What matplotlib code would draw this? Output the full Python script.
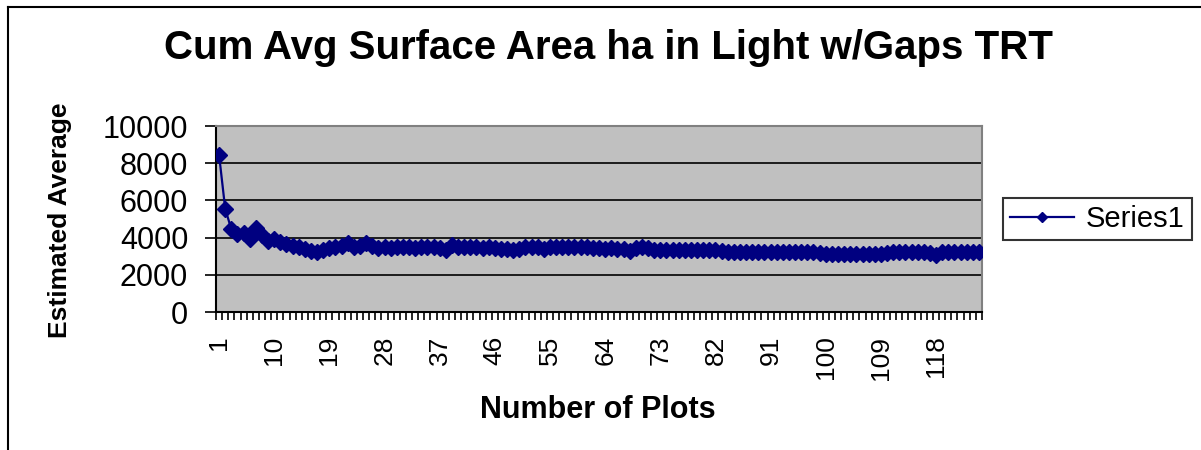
import matplotlib
matplotlib.use('Agg')
import matplotlib.pyplot as plt
from matplotlib.lines import Line2D

plt.rcParams['font.family'] = ['Liberation Sans', 'DejaVu Sans']

# Cumulative average of surface area (ha), one value per plot added
cum_avg = [
    8450, 5550, 4450, 4200, 4250, 3950, 4500, 4150, 3800, 3950,
    3770, 3630, 3570, 3500, 3380, 3290, 3230, 3330, 3450, 3470,
    3540, 3700, 3520, 3550, 3700, 3560, 3440, 3480, 3460, 3480,
    3470, 3480, 3460, 3480, 3470, 3480, 3460, 3350, 3600, 3470,
    3480, 3470, 3480, 3460, 3470, 3460, 3380, 3370, 3360, 3380,
    3480, 3470, 3480, 3380, 3470, 3480, 3470, 3480, 3470, 3480,
    3490, 3450, 3420, 3410, 3420, 3400, 3410, 3300, 3450, 3470,
    3460, 3350, 3330, 3320, 3330, 3320, 3330, 3320, 3330, 3320,
    3330, 3320, 3300, 3230, 3220, 3230, 3220, 3230, 3220, 3230,
    3220, 3230, 3220, 3210, 3220, 3210, 3220, 3210, 3190, 3140,
    3130, 3140, 3130, 3140, 3130, 3140, 3130, 3140, 3130, 3150,
    3220, 3240, 3230, 3240, 3230, 3240, 3180, 3080, 3220, 3230,
    3240, 3230, 3240, 3230, 3240,
]
plots = list(range(1, len(cum_avg) + 1))
tick_plots = plots[::9]
y_ticks = [0, 2000, 4000, 6000, 8000, 10000]

fig = plt.figure(figsize=(12.01, 4.5), dpi=100)
ax = fig.add_axes([216 / 1201, 1 - 312 / 450, (982 - 216) / 1201, (312 - 126) / 450])
ax.set_facecolor('#c0c0c0')

line, = ax.plot(plots, cum_avg, color='#000080', linewidth=1.6,
                marker='D', markersize=8.5, markeredgecolor='#000080',
                markerfacecolor='#000080', label='Series1', zorder=3)

ax.set_xlim(0.5, len(cum_avg) + 0.5)
ax.set_ylim(0, 10000)
ax.set_yticks(y_ticks)
ax.yaxis.grid(True, color='black', linewidth=1.2)
ax.set_axisbelow(True)

# category labels every 9th plot, tick marks between every category
ax.set_xticks(tick_plots)
ax.set_xticklabels([str(p) for p in tick_plots], rotation=90, fontsize=19)
ax.set_xticks([p + 0.5 for p in [0] + plots], minor=True)
ax.tick_params(axis='x', which='major', length=0, pad=17)
ax.tick_params(axis='x', which='minor', length=6, width=1.2, direction='out', color='black')
ax.tick_params(axis='y', length=8, width=1.2, direction='out', labelsize=22, pad=12)

for side in ['left', 'bottom']:
    ax.spines[side].set_color('black')
    ax.spines[side].set_linewidth(1.5)
for side in ['top', 'right']:
    ax.spines[side].set_color('#808080')
    ax.spines[side].set_linewidth(1.5)

fig.text(608 / 1201, 1 - 48 / 450, 'Cum Avg Surface Area ha in Light w/Gaps TRT',
         ha='center', va='center', fontsize=29, fontweight='bold')
fig.text(60 / 1201, 1 - 220 / 450, 'Estimated Average', rotation=90,
         ha='center', va='center', fontsize=19, fontweight='bold')
fig.text(598 / 1201, 1 - 410 / 450, 'Number of Plots',
         ha='center', va='center', fontsize=22, fontweight='bold')

leg = fig.legend(handles=[line], loc='center left',
                 bbox_to_anchor=(1003 / 1201, 1 - 219 / 450),
                 fontsize=21, fancybox=False, edgecolor='black',
                 handlelength=2.2, borderpad=0.25, handletextpad=0.4,
                 borderaxespad=0, markerscale=0.6)
leg.get_frame().set_linewidth(1.5)

# chart area border (left and top edges)
fig.add_artist(Line2D([8 / 1201, 8 / 1201], [0, 1 - 7 / 450], color='black', linewidth=1.5))
fig.add_artist(Line2D([8 / 1201, 1], [1 - 7 / 450, 1 - 7 / 450], color='black', linewidth=1.5))

fig.savefig('out.png', dpi=100)
